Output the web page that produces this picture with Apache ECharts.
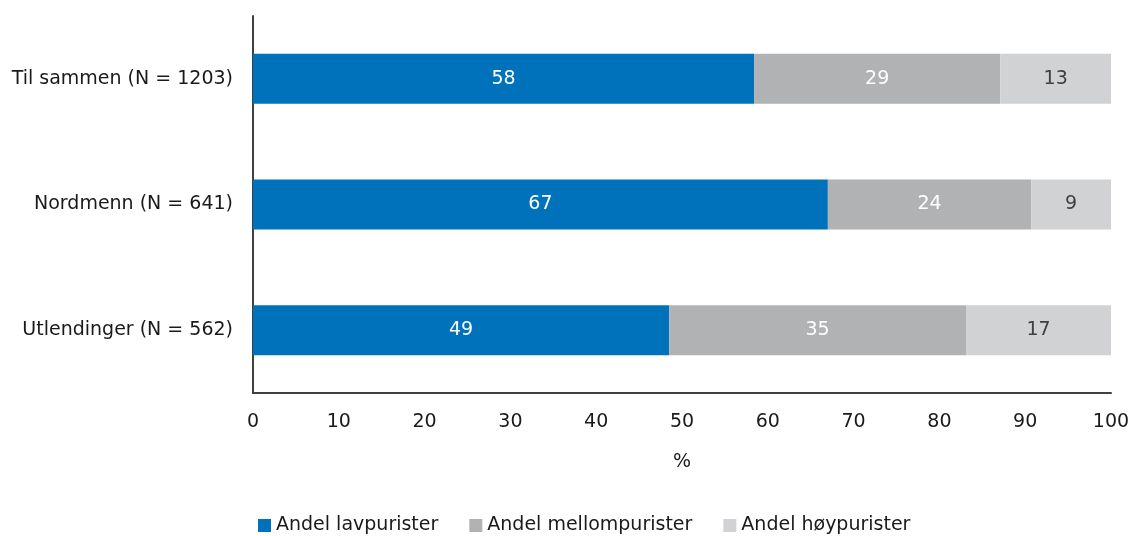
<!DOCTYPE html>
<html><head><meta charset="utf-8">
<script src="https://cdn.jsdelivr.net/npm/echarts@6/dist/echarts.min.js"></script>
<style>html,body{margin:0;padding:0;background:#fff}#c{width:1135px;height:536px}</style>
</head><body><div id="c"></div>
<script>
const categories = ['Utlendinger (N = 562)', 'Nordmenn (N = 641)', 'Til sammen (N = 1203)'];
const lav = [48.5, 67.0, 58.4];
const mellom = [34.6, 23.7, 28.7];
const hoy = [16.9, 9.3, 12.9];
const seriesNames = ['Andel lavpurister', 'Andel mellompurister', 'Andel høypurister'];
const xTicks = [0, 10, 20, 30, 40, 50, 60, 70, 80, 90, 100];

const FONT = 'DejaVu Sans';
const FS = 19;
const chart = echarts.init(document.getElementById('c'));
function s(name, data, color, labelColor) {
  return {
    name, type: 'bar', stack: 'a', data, barWidth: 50,
    itemStyle: { color },
    label: { show: true, position: 'inside', color: labelColor, fontFamily: FONT, fontSize: FS,
      formatter: p => Math.round(p.value) }
  };
}
chart.setOption({
  animation: false,
  textStyle: { fontFamily: FONT },
  grid: { left: 253, right: 24, top: 16, bottom: 143, containLabel: false },
  legend: {
    bottom: -4, left: 253, icon: 'rect', itemWidth: 13, itemHeight: 13, itemGap: 31,
    textStyle: { fontFamily: FONT, fontSize: FS, color: '#1a1a1a' },
    data: seriesNames
  },
  xAxis: {
    type: 'value', min: 0, max: 100, interval: 10,
    name: '%', nameLocation: 'middle', nameGap: 60,
    nameTextStyle: { fontFamily: FONT, fontSize: FS, color: '#1a1a1a' },
    axisLine: { show: true, lineStyle: { color: '#404040', width: 2 } },
    axisTick: { show: false }, splitLine: { show: false },
    axisLabel: { fontFamily: FONT, fontSize: FS, color: '#1a1a1a', margin: 20,
      formatter: v => xTicks.includes(v) ? String(v) : '' }
  },
  yAxis: {
    type: 'category', data: categories,
    axisLine: { show: true, lineStyle: { color: '#404040', width: 2 } },
    axisTick: { show: false },
    axisLabel: { fontFamily: FONT, fontSize: FS, color: '#1a1a1a', margin: 20 }
  },
  series: [
    s(seriesNames[0], lav, '#0072BC', '#ffffff'),
    s(seriesNames[1], mellom, '#B1B2B4', '#ffffff'),
    s(seriesNames[2], hoy, '#D1D2D4', '#404040')
  ]
});
</script></body></html>
